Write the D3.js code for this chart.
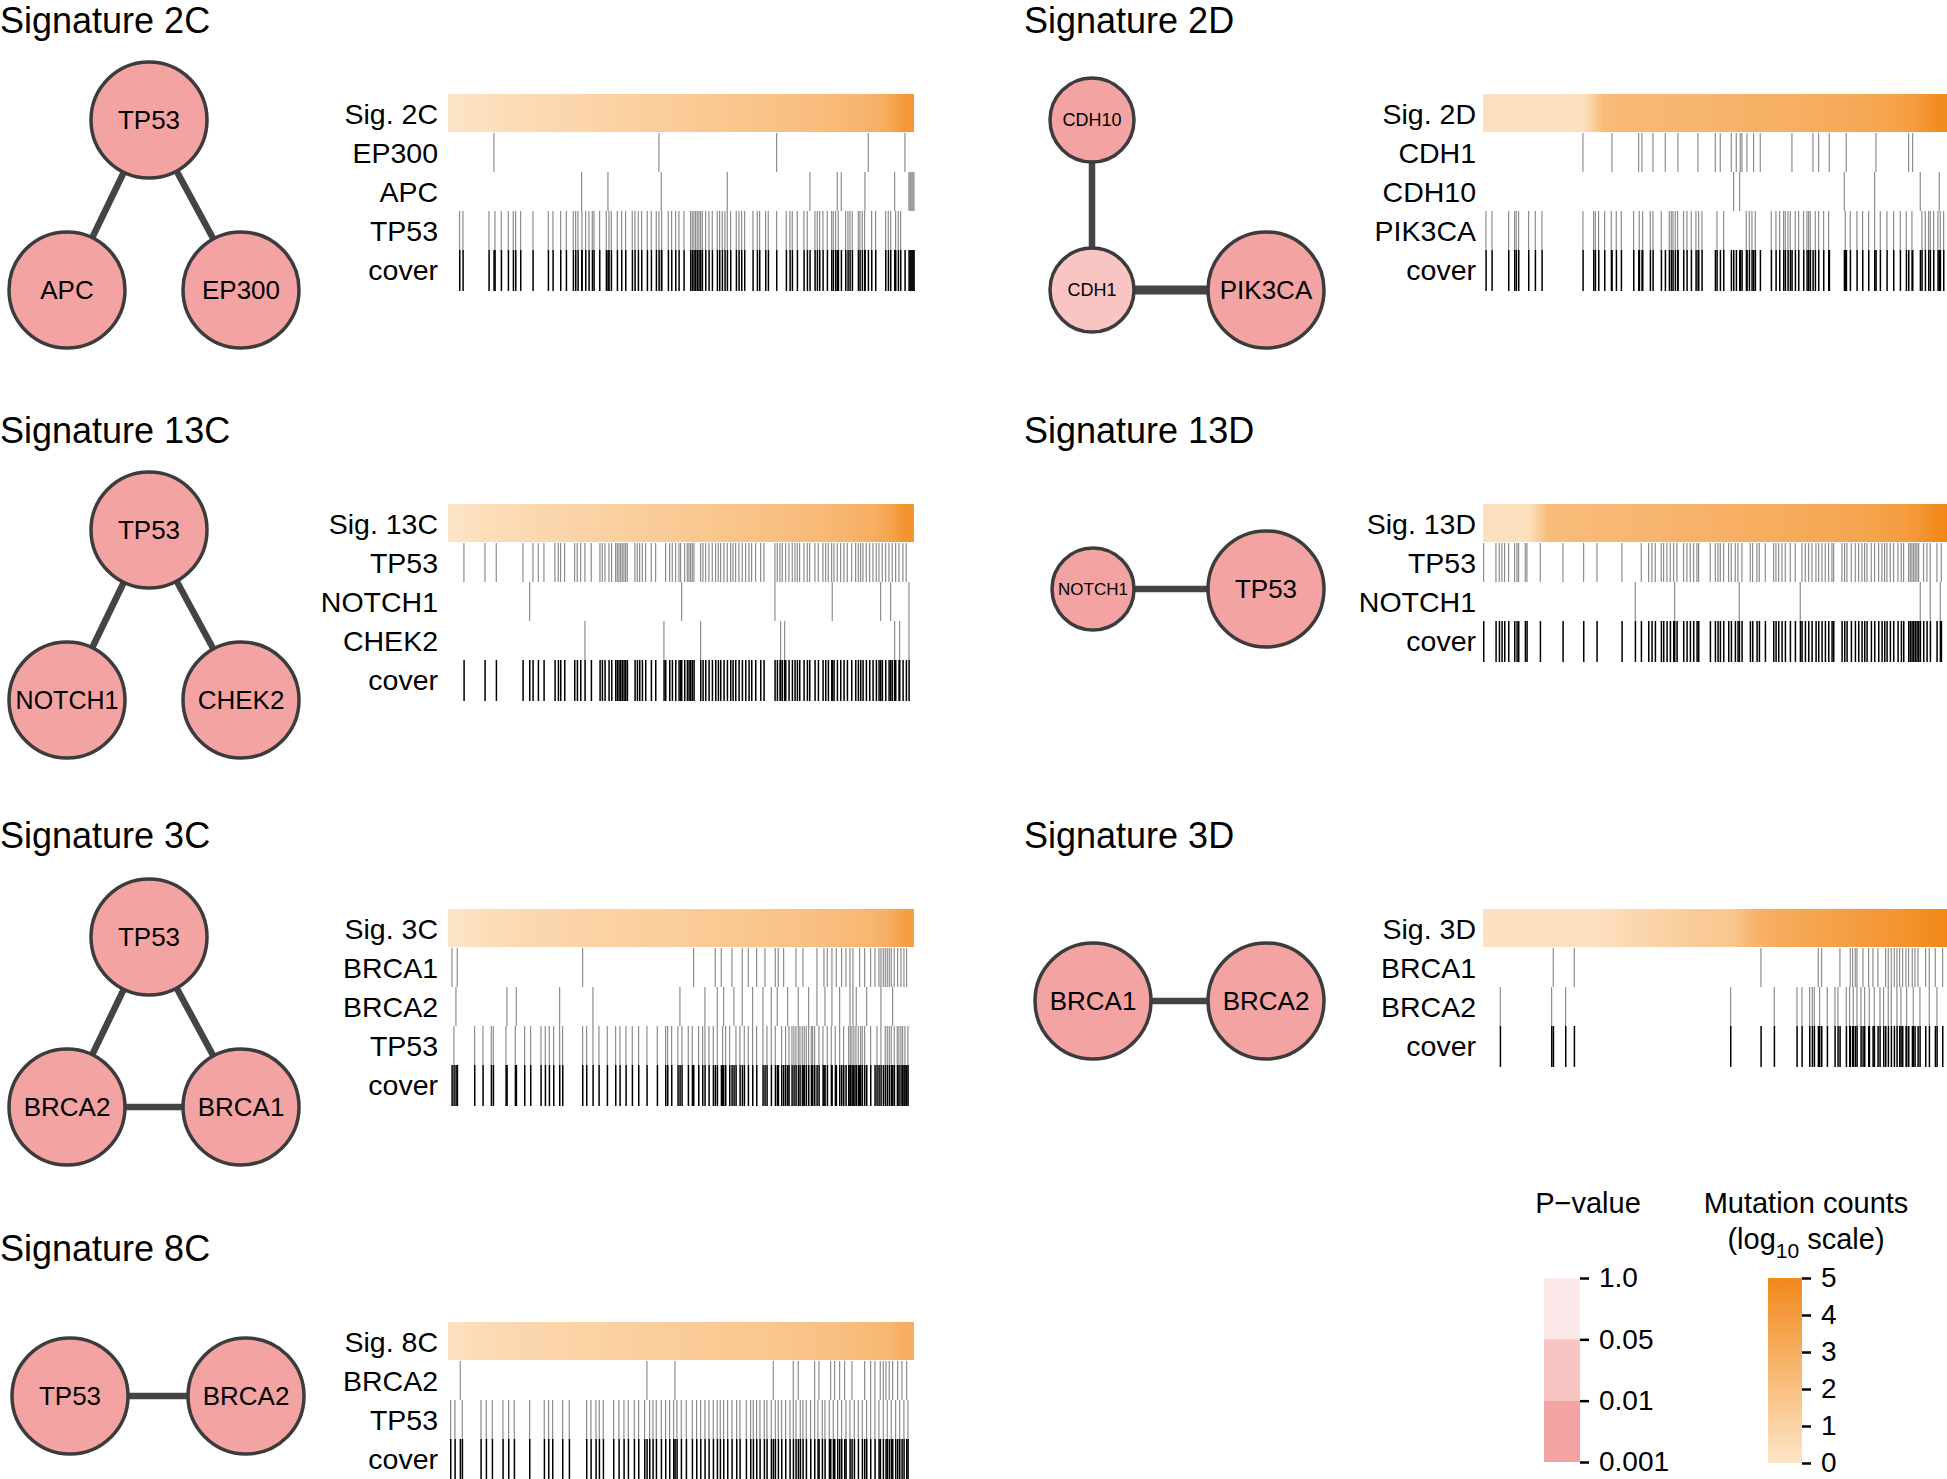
<!DOCTYPE html>
<html><head><meta charset="utf-8">
<script src="https://cdn.jsdelivr.net/npm/d3@7"></script>
<style>
html,body{margin:0;padding:0;background:#fff;}
text{font-family:"Liberation Sans",Arial,Helvetica,sans-serif;fill:#000;}
</style></head>
<body><svg id="chart" width="1947" height="1479"></svg>
<script>
// ---------------- DATA ----------------
const panelNames = ["2C","2D","13C","13D","3C","3D","8C"];

// number of ranked samples in each heatmap
const nSamples = {"2C":1398,"2D":1392,"13C":1398,"13D":1392,"3C":1398,"3D":1392,"8C":1398};

// signature exposure (log10 mutation counts), samples sorted ascending, 25 equal bins
const sig2C  = [0.1,0.25,0.4,0.5,0.6,0.7,0.8,0.9,1.0,1.1,1.2,1.3,1.4,1.5,1.6,1.7,1.8,1.9,2.0,2.15,2.3,2.5,2.7,3.1,4.2];
const sig2D  = [0.3,0.3,0.3,0.3,0.3,0.35,2.3,2.4,2.45,2.5,2.55,2.6,2.65,2.7,2.8,2.85,2.9,3.0,3.1,3.2,3.3,3.5,3.7,4.1,4.9];
const sig13C = [0.1,0.3,0.45,0.6,0.7,0.8,0.9,1.0,1.1,1.2,1.3,1.4,1.5,1.6,1.7,1.8,1.9,2.0,2.15,2.3,2.45,2.65,2.9,3.3,4.4];
const sig13D = [0.3,0.3,0.35,2.2,2.3,2.35,2.4,2.5,2.55,2.6,2.7,2.75,2.8,2.9,3.0,3.05,3.1,3.2,3.3,3.4,3.5,3.7,3.9,4.3,5.0];
const sig3C  = [0.1,0.3,0.5,0.6,0.7,0.8,0.9,1.0,1.05,1.1,1.2,1.25,1.3,1.4,1.5,1.6,1.7,1.8,1.9,2.0,2.15,2.3,2.5,2.9,3.8];
const sig3D  = [0.2,0.2,0.2,0.2,0.25,0.25,0.3,0.6,0.8,1.0,1.2,1.4,1.5,1.7,2.6,3.0,3.2,3.4,3.6,3.8,4.0,4.2,4.4,4.7,5.0];
const sig8C  = [0.2,0.5,0.6,0.7,0.8,0.9,0.95,1.0,1.1,1.15,1.2,1.3,1.35,1.4,1.5,1.55,1.6,1.7,1.8,1.9,2.0,2.1,2.3,2.5,3.0];

// genes in each module (heatmap row order)
const genes2C  = ["EP300","APC","TP53"];
const genes2D  = ["CDH1","CDH10","PIK3CA"];
const genes13C = ["TP53","NOTCH1","CHEK2"];
const genes13D = ["TP53","NOTCH1"];
const genes3C  = ["BRCA1","BRCA2","TP53"];
const genes3D  = ["BRCA1","BRCA2"];
const genes8C  = ["BRCA2","TP53"];

// ranks of mutated samples per gene
const mut2C_EP300 = [136,631,984,1259,1369];
const mut2C_APC   = [399,478,638,836,1084,1166,1178,1249,1338,1381,1384,1387,1390,1393,1396];
const mut2C_TP53  = [33,43,121,139,158,179,194,201,216,253,299,313,336,353,374,381,388,400,411,421,431,436,453,473,481,488,506,519,531,551,559,569,579,596,608,623,631,639,659,669,681,691,706,726,731,736,741,746,751,756,761,771,781,791,806,813,821,829,836,846,863,871,879,888,913,926,933,951,959,984,1013,1024,1031,1046,1066,1076,1099,1106,1113,1123,1136,1149,1154,1161,1169,1191,1198,1204,1211,1229,1234,1241,1248,1269,1281,1311,1319,1326,1341,1349,1356];

const mut2D_CDH1   = [298,385,465,475,508,545,583,643,695,710,743,758,770,775,790,810,830,925,988,1005,1037,1088,1177,1275,1287];
const mut2D_CDH10  = [750,768,1082,1173,1310,1367];
const mut2D_PIK3CA = [7,25,75,93,98,105,135,155,175,298,330,335,345,363,383,398,413,450,467,477,500,508,533,557,563,568,575,582,600,610,623,637,645,655,700,720,788,797,805,815,863,877,888,900,905,913,920,935,945,960,970,975,980,995,1005,1020,1035,1085,1100,1120,1137,1155,1173,1190,1210,1230,1250,1268,1285,1315,1325,1335,1340,1350,1363,1370,1380];

const mut13C_TP53   = [46,109,143,223,253,269,286,319,329,336,348,378,386,396,409,428,454,461,469,481,489,501,506,511,516,521,526,531,536,559,566,573,581,591,608,621,651,663,671,681,691,696,708,716,721,726,731,736,756,763,771,781,791,801,809,816,826,836,846,853,861,871,881,891,901,909,921,936,946,979,986,994,1001,1011,1021,1031,1039,1046,1053,1066,1076,1083,1099,1109,1123,1131,1139,1149,1156,1166,1176,1186,1196,1209,1221,1229,1236,1243,1253,1263,1273,1283,1291,1301,1311,1321,1331,1341,1351,1363,1373];
const mut13C_NOTCH1 = [243,699,979,1151,1296,1326,1381];
const mut13C_CHEK2  = [409,646,756,996,1008,1338,1353,1381];

const mut13D_TP53   = [0,37,47,55,63,75,93,100,105,125,130,170,238,300,340,415,473,495,505,515,533,540,550,560,570,580,600,610,620,630,640,645,680,695,703,710,720,735,743,755,763,775,800,807,820,827,845,870,877,885,895,905,920,935,955,965,975,985,997,1005,1015,1025,1035,1045,1050,1075,1083,1090,1103,1115,1125,1135,1143,1150,1163,1173,1185,1195,1203,1210,1220,1230,1243,1253,1260,1275,1280,1285,1290,1295,1300,1305,1320,1330,1340,1360,1373];
const mut13D_NOTCH1 = [455,573,767,950,1310,1340,1370];

const mut3C_BRCA1 = [10,26,402,735,800,818,850,881,899,924,949,980,989,1005,1042,1063,1105,1126,1136,1150,1163,1179,1192,1204,1213,1233,1248,1266,1279,1291,1297,1304,1310,1316,1322,1328,1337,1347,1357,1366,1374];
const mut3C_BRCA2 = [22,175,203,333,433,694,769,806,825,856,881,912,943,968,986,1017,1049,1080,1105,1129,1150,1173,1204,1213,1223,1254,1297,1332];
const mut3C_TP53  = [16,78,103,128,134,172,200,228,246,277,290,302,315,333,342,402,414,433,451,476,501,514,532,551,570,595,626,651,657,669,688,700,719,731,750,762,769,781,794,806,822,831,843,862,874,887,899,912,924,943,955,968,980,999,1011,1021,1030,1036,1042,1049,1054,1061,1067,1073,1080,1088,1092,1098,1111,1123,1136,1148,1160,1173,1185,1200,1205,1210,1216,1222,1229,1236,1241,1248,1266,1285,1297,1310,1316,1322,1328,1337,1346,1351,1357,1362,1369,1378];

const mut3D_BRCA1 = [209,272,832,1004,1014,1069,1100,1107,1115,1120,1138,1155,1168,1183,1206,1214,1223,1232,1240,1248,1257,1267,1275,1286,1294,1303,1326,1337,1355,1377];
const mut3D_BRCA2 = [50,204,246,741,872,940,955,978,986,992,1008,1031,1054,1063,1088,1098,1109,1120,1132,1143,1157,1172,1189,1200,1214,1223,1240,1252,1269,1289,1309,1337,1360];

const mut8C_BRCA2 = [35,595,679,974,1034,1049,1098,1111,1146,1158,1173,1188,1210,1248,1266,1279,1295,1304,1312,1322,1332,1347,1360,1374];
const mut8C_TP53  = [6,19,41,97,113,131,163,180,197,243,287,300,312,342,362,414,427,442,452,464,495,511,526,539,557,570,588,603,613,623,638,651,663,675,685,698,713,731,744,756,769,781,794,806,815,825,837,850,864,874,893,906,914,924,934,947,955,968,980,989,999,1011,1024,1034,1042,1055,1063,1073,1086,1098,1108,1121,1129,1142,1154,1167,1179,1192,1204,1217,1229,1241,1254,1266,1279,1291,1304,1316,1328,1341,1353,1366,1378];

// network edges and node p-values
const edges2C  = [["TP53","APC"],["TP53","EP300"]];
const edges2D  = [["CDH10","CDH1"],["CDH1","PIK3CA"]];
const edges13C = [["TP53","NOTCH1"],["TP53","CHEK2"]];
const edges13D = [["NOTCH1","TP53"]];
const edges3C  = [["TP53","BRCA2"],["TP53","BRCA1"],["BRCA2","BRCA1"]];
const edges3D  = [["BRCA1","BRCA2"]];
const edges8C  = [["TP53","BRCA2"]];
const edgeWeight2D = [1,1.4];
const pval2C  = {TP53:0.0005,APC:0.0005,EP300:0.0005};
const pval2D  = {CDH10:0.0008,CDH1:0.03,PIK3CA:0.0005};
const pval13C = {TP53:0.0005,NOTCH1:0.0008,CHEK2:0.0008};
const pval13D = {NOTCH1:0.0008,TP53:0.0005};
const pval3C  = {TP53:0.0005,BRCA2:0.0005,BRCA1:0.0005};
const pval3D  = {BRCA1:0.0005,BRCA2:0.0005};
const pval8C  = {TP53:0.0005,BRCA2:0.0005};

// legends
const pvalTicks  = ["1.0","0.05","0.01","0.001"];
const pvalBandRep = [0.5,0.03,0.005];
const countTicks = [0,1,2,3,4,5];

// ---------------- DRAWING ----------------
const svg = d3.select("#chart");
const defs = svg.append("defs");
const countColor = d3.scaleLinear().domain([0,5]).range(["#fde5c8","#f2891b"]).interpolate(d3.interpolateRgb);
const pColor = d3.scaleThreshold().domain([0.01,0.05]).range(["#f4a3a3","#f8c5c2","#fce8e8"]);

const data = {
 "2C": {sig:sig2C, genes:genes2C, mut:{EP300:mut2C_EP300,APC:mut2C_APC,TP53:mut2C_TP53}, edges:edges2C, pv:pval2C},
 "2D": {sig:sig2D, genes:genes2D, mut:{CDH1:mut2D_CDH1,CDH10:mut2D_CDH10,PIK3CA:mut2D_PIK3CA}, edges:edges2D, pv:pval2D, ew:edgeWeight2D},
 "13C":{sig:sig13C, genes:genes13C, mut:{TP53:mut13C_TP53,NOTCH1:mut13C_NOTCH1,CHEK2:mut13C_CHEK2}, edges:edges13C, pv:pval13C},
 "13D":{sig:sig13D, genes:genes13D, mut:{TP53:mut13D_TP53,NOTCH1:mut13D_NOTCH1}, edges:edges13D, pv:pval13D},
 "3C": {sig:sig3C, genes:genes3C, mut:{BRCA1:mut3C_BRCA1,BRCA2:mut3C_BRCA2,TP53:mut3C_TP53}, edges:edges3C, pv:pval3C},
 "3D": {sig:sig3D, genes:genes3D, mut:{BRCA1:mut3D_BRCA1,BRCA2:mut3D_BRCA2}, edges:edges3D, pv:pval3D},
 "8C": {sig:sig8C, genes:genes8C, mut:{BRCA2:mut8C_BRCA2,TP53:mut8C_TP53}, edges:edges8C, pv:pval8C}
};

// layout (positions, not data)
const panelPos = {"2C":[0,0],"2D":[1024,0],"13C":[0,410],"13D":[1024,410],"3C":[0,815],"3D":[1024,815],"8C":[0,1228]};
const nodeLayout = {
 "2C": {TP53:[149,120,58,26],APC:[67,290,58,26],EP300:[241,290,58,26]},
 "2D": {CDH10:[68,120,42,18],CDH1:[68,290,42,18],PIK3CA:[242,290,58,26]},
 "13C":{TP53:[149,120,58,26],NOTCH1:[67,290,58,25],CHEK2:[241,290,58,26]},
 "13D":{NOTCH1:[69,179,41,17],TP53:[242,179,58,26]},
 "3C": {TP53:[149,122,58,26],BRCA2:[67,292,58,26],BRCA1:[241,292,58,26]},
 "3D": {BRCA1:[69,186,58,26],BRCA2:[242,186,58,26]},
 "8C": {TP53:[70,168,58,26],BRCA2:[246,168,58,26]}
};
const heatLayout = {left:{x0:448,x1:914,lab:438}, right:{x0:1483-1024,x1:1947-1024,lab:1476-1024}};
const rowH = 39, sigTop = 94;

panelNames.forEach(name => {
  const d = data[name];
  const [px,py] = panelPos[name];
  const side = px === 0 ? heatLayout.left : heatLayout.right;
  const g = svg.append("g").attr("transform",`translate(${px},${py})`);
  g.append("text").attr("x",0).attr("y",33).style("font-size","36px").text("Signature "+name);

  // network
  const L = nodeLayout[name];
  g.selectAll("line.edge").data(d.edges).join("line")
    .attr("x1",e=>L[e[0]][0]).attr("y1",e=>L[e[0]][1])
    .attr("x2",e=>L[e[1]][0]).attr("y2",e=>L[e[1]][1])
    .attr("stroke","#444").attr("stroke-width",(e,i)=>6.5*(d.ew?d.ew[i]:1));
  const nodes = Object.keys(L);
  const ng = g.selectAll("g.node").data(nodes).join("g").attr("transform",n=>`translate(${L[n][0]},${L[n][1]})`);
  ng.append("circle").attr("r",n=>L[n][2]).attr("fill",n=>pColor(d.pv[n])).attr("stroke","#3c3c3c").attr("stroke-width",3.5);
  ng.append("text").attr("text-anchor","middle").attr("dy","0.36em").style("font-size",n=>L[n][3]+"px").text(n=>n);

  // heatmap
  const rows = ["Sig. "+name, ...d.genes, "cover"];
  const y = d3.scaleBand().domain(rows).range([sigTop, sigTop+rowH*rows.length]);
  const x = d3.scaleLinear().domain([0,nSamples[name]]).range([side.x0, side.x1]);
  const bins = d3.scaleLinear().domain([0,d.sig.length]).range([0,1]);
  const grad = defs.append("linearGradient").attr("id","g"+name).attr("x1",0).attr("x2",1).attr("y1",0).attr("y2",0);
  grad.append("stop").attr("offset",0).attr("stop-color",countColor(d.sig[0]));
  d.sig.forEach((v,i)=>grad.append("stop").attr("offset",bins(i+0.5)).attr("stop-color",countColor(v)));
  grad.append("stop").attr("offset",1).attr("stop-color",countColor(d.sig[d.sig.length-1]));
  g.append("rect").attr("x",side.x0).attr("width",side.x1-side.x0).attr("y",y(rows[0])).attr("height",y.bandwidth()-1).attr("fill",`url(#g${name})`);

  d.genes.forEach(gene=>{
    g.append("g").selectAll("rect").data(d.mut[gene]).join("rect")
      .attr("x",r=>x(r)).attr("width",1.2).attr("y",y(gene)).attr("height",y.bandwidth())
      .attr("fill","#8e8e8e");
  });
  const cover = Array.from(new Set(d.genes.flatMap(gn=>d.mut[gn]))).sort((a,b)=>a-b);
  g.append("g").selectAll("rect").data(cover).join("rect")
    .attr("x",r=>x(r)).attr("width",1.5).attr("y",y("cover")).attr("height",y.bandwidth()+2)
    .attr("fill","#000");

  g.selectAll("text.lab").data(rows).join("text").attr("class","lab")
    .attr("x",side.lab).attr("y",r=>y(r)+y.bandwidth()/2).attr("dy","0.36em")
    .attr("text-anchor","end").style("font-size","28.5px").text(r=>r);
});

// ---------- legends ----------
const lg = svg.append("g");
lg.append("text").attr("x",1588).attr("y",1213).attr("text-anchor","middle").style("font-size","29px").text("P\u2212value");
const yP = d3.scalePoint().domain(pvalTicks).range([1278,1462]);
lg.selectAll("rect.pb").data(pvalBandRep).join("rect")
  .attr("x",1544).attr("width",36)
  .attr("y",(v,i)=>yP(pvalTicks[i])).attr("height",(v,i)=>yP(pvalTicks[i+1])-yP(pvalTicks[i]))
  .attr("fill",v=>pColor(v));
const axP = lg.append("g").attr("transform","translate(1580,0)").call(d3.axisRight(yP).tickSize(9).tickPadding(10));
axP.select(".domain").remove();
axP.selectAll(".tick line").attr("stroke","#000").attr("stroke-width",2.5);
axP.selectAll(".tick text").style("font-size","28px").style("font-family","'Liberation Sans',Arial,sans-serif").attr("fill","#000");

lg.append("text").attr("x",1806).attr("y",1213).attr("text-anchor","middle").style("font-size","29px").text("Mutation counts");
const t2 = lg.append("text").attr("x",1806).attr("y",1249).attr("text-anchor","middle").style("font-size","29px");
t2.append("tspan").text("(log");
t2.append("tspan").attr("dy",9).style("font-size","21px").text("10");
t2.append("tspan").attr("dy",-9).text(" scale)");
const yC = d3.scaleLinear().domain([0,5]).range([1463,1278]);
const cg = defs.append("linearGradient").attr("id","gcount").attr("x1",0).attr("x2",0).attr("y1",1).attr("y2",0);
countTicks.forEach(v=>cg.append("stop").attr("offset",v/5).attr("stop-color",countColor(v)));
lg.append("rect").attr("x",1768).attr("width",34).attr("y",yC(5)).attr("height",yC(0)-yC(5)).attr("fill","url(#gcount)");
const axC = lg.append("g").attr("transform","translate(1802,0)").call(d3.axisRight(yC).tickValues(countTicks).tickFormat(d3.format("d")).tickSize(9).tickPadding(10));
axC.select(".domain").remove();
axC.selectAll(".tick line").attr("stroke","#000").attr("stroke-width",2.5);
axC.selectAll(".tick text").style("font-size","28px").style("font-family","'Liberation Sans',Arial,sans-serif").attr("fill","#000");
</script></body></html>
